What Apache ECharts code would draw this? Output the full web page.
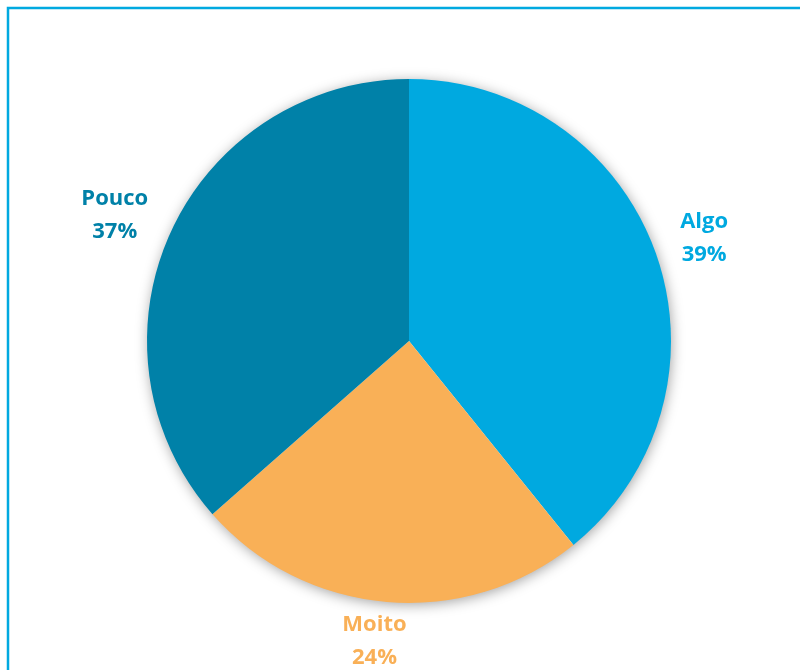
<!DOCTYPE html>
<html>
<head>
<meta charset="utf-8">
<script src="https://cdn.jsdelivr.net/npm/echarts@6/dist/echarts.min.js"></script>
<style>html,body{margin:0;padding:0;background:#fff;}#chart{width:800px;height:670px;}</style>
</head>
<body>
<div id="chart"></div>
<script>
const categories = ['Algo', 'Moito', 'Pouco'];
const values = [39.2, 24.3, 36.5];
const colors = ['#00A9E0', '#F9B057', '#0081A8'];

const labelNudge = { Algo: [0, 1], Moito: [-8, -12], Pouco: [-9, 3] };

const chart = echarts.init(document.getElementById('chart'));
const sliceData = categories.map((c, i) => ({ name: c, value: values[i], itemStyle: { color: colors[i] } }));
const labelData = categories.map((c, i) => ({
  name: c, value: values[i],
  itemStyle: { color: 'transparent' },
  label: { color: colors[i], offset: labelNudge[c] }
}));
const total = values.reduce((a, b) => a + b, 0);
chart.setOption({
  animation: false,
  graphic: [{
    type: 'rect', silent: true, z: -1,
    shape: { x: 8, y: 8, width: 1000, height: 1000 },
    style: { fill: 'none', stroke: '#00A9E0', lineWidth: 2.5 }
  }],
  series: [{
    type: 'pie', z: 1,
    center: [409, 341],
    radius: [0, 261],
    silent: true,
    label: { show: false },
    labelLine: { show: false },
    itemStyle: { color: '#ffffff', shadowBlur: 14, shadowColor: 'rgba(0,0,0,0.4)', shadowOffsetX: 1, shadowOffsetY: 2 },
    emphasis: { disabled: true },
    data: [{ name: 'shadow', value: total }]
  }, {
    type: 'pie', z: 2,
    center: [409, 341],
    radius: [0, 262],
    startAngle: 90,
    clockwise: true,
    label: { show: false },
    labelLine: { show: false },
    emphasis: { disabled: true },
    data: sliceData
  }, {
    type: 'pie', z: 3,
    center: [409, 341],
    radius: [262, 358],
    startAngle: 90,
    clockwise: true,
    silent: true,
    label: {
      show: true, position: 'inside',
      formatter: p => p.name + '\n' + Math.round(p.value) + '%',
      fontFamily: 'Open Sans', fontWeight: 'bold', fontSize: 22, lineHeight: 33
    },
    labelLine: { show: false },
    emphasis: { disabled: true },
    data: labelData
  }]
});
</script>
</body>
</html>
